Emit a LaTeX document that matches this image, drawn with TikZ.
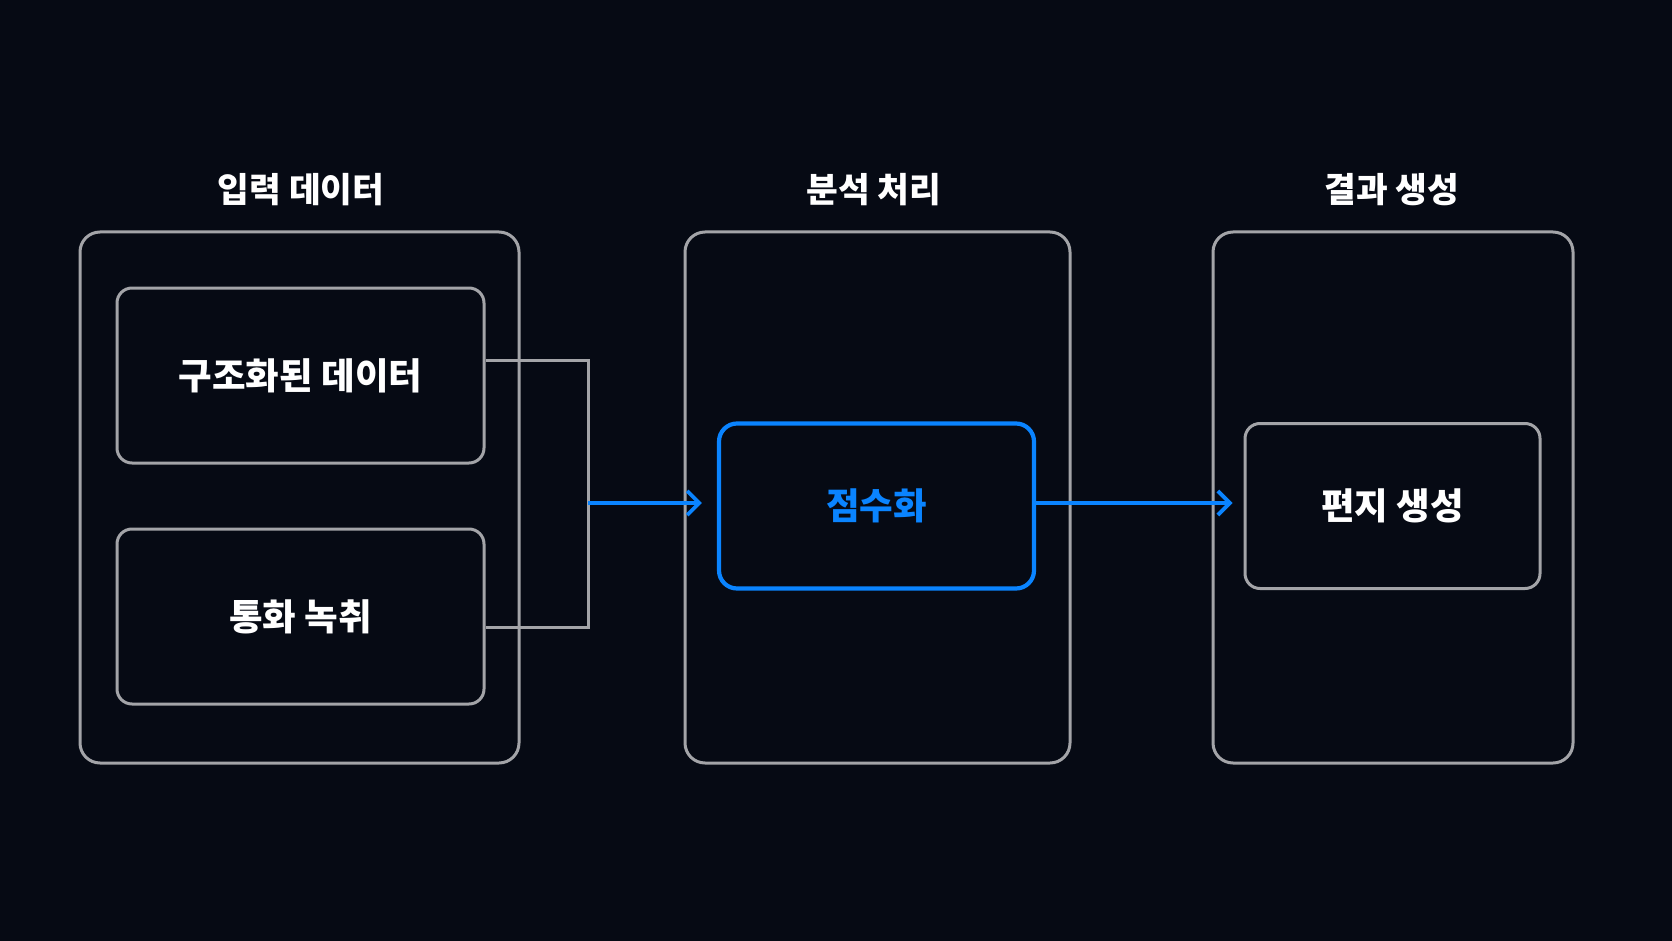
\documentclass[tikz,border=0pt]{standalone}
\usepackage{fontspec}
\setmainfont{Noto Sans CJK KR}
\usetikzlibrary{arrows.meta}
\definecolor{bg}{HTML}{060A14}
\definecolor{frame}{HTML}{A3A4A8}
\definecolor{accent}{HTML}{0A84FF}
\tikzset{
  outerbox/.style={draw=frame, line width=3pt, rounded corners=20pt, inner sep=0pt},
  innerbox/.style={draw=frame, line width=3pt, rounded corners=15pt, inner sep=0pt,
     text=white, font=\fontsize{36.5}{42}\selectfont\bfseries},
  bluebox/.style={draw=accent, line width=4.2pt, rounded corners=18pt, inner sep=0pt,
     text=accent, font=\fontsize{36.5}{42}\selectfont\bfseries},
  title/.style={text=white, font=\fontsize{34.5}{40}\selectfont\bfseries},
  link/.style={draw=frame, line width=3pt},
  flow/.style={draw=accent, line width=3.8pt, -{Straight Barb[length=12pt,width=24pt,line width=3.8pt]}}
}
\begin{document}
\begin{tikzpicture}[x=1pt,y=-1pt]
\fill[bg] (0,0) rectangle (1672,941);
\useasboundingbox (0,0) rectangle (1672,941);
% titles
\node[title] (t1) at (301,190) {입력 데이터};
\node[title] (t2) at (874,190) {분석 처리};
\node[title] (t3) at (1392,190) {결과 생성};
% outer panels
\node[outerbox, minimum width=439pt, minimum height=531pt] (o1) at (299.5,497.5) {};
\node[outerbox, minimum width=385pt, minimum height=531pt] (o2) at (877.5,497.5) {};
\node[outerbox, minimum width=360pt, minimum height=531pt] (o3) at (1393,497.5) {};
% inner boxes
\node[innerbox, minimum width=367pt, minimum height=175pt] (in1) at (300.5,375.5) {구조화된 데이터};
\node[innerbox, minimum width=367pt, minimum height=175pt] (in2) at (300.5,616.5) {통화 녹취};
\node[bluebox, minimum width=315pt, minimum height=165pt] (sc) at (876.5,506) {점수화};
\node[innerbox, minimum width=295pt, minimum height=165pt] (lt) at (1392.5,506) {편지 생성};
% connectors
\coordinate (j) at (588,503);
\draw[link] ([yshift=15.5pt]in1.east) -| (j) |- ([yshift=-10.5pt]in2.east);
\draw[flow, shorten >=15pt] (j) -- (sc.west |- j);
\draw[flow, shorten >=11pt] (sc.east |- j) -- (lt.west |- j);
\end{tikzpicture}
\end{document}
